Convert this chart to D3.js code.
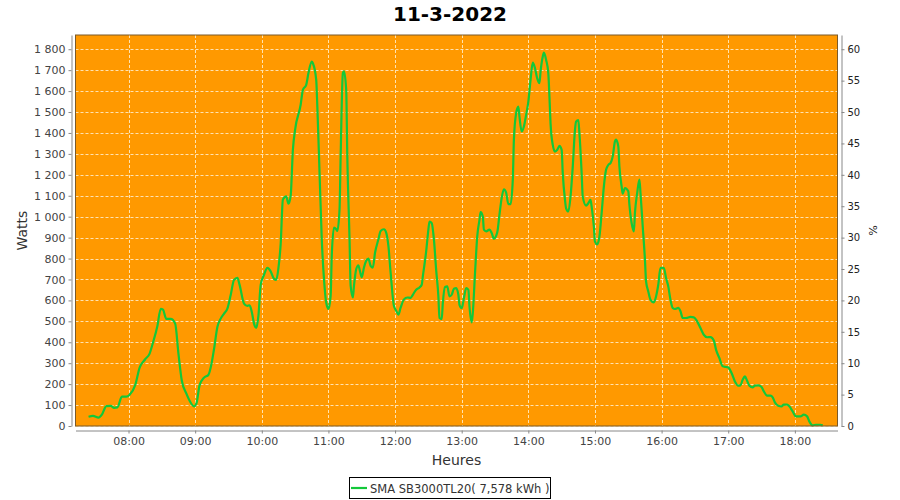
<!DOCTYPE html>
<html>
<head>
<meta charset="utf-8">
<script src="https://cdn.jsdelivr.net/npm/d3@7"></script>
<style>
  html, body { margin: 0; padding: 0; background: #ffffff; }
  svg { display: block; }
</style>
</head>
<body>
<svg id="chart" width="900" height="500"></svg>
<script>
const title = "11-3-2022";
const seriesName = "SMA SB3000TL20( 7,578 kWh )";
const yLabel = "Watts";
const y2Label = "%";
const xLabel = "Heures";
const nominalPower = 3000; // % axis = W / 3000
const yTicks = [0,100,200,300,400,500,600,700,800,900,1000,1100,1200,1300,1400,1500,1600,1700,1800];
const y2Ticks = [0,5,10,15,20,25,30,35,40,45,50,55,60];

const times = [
"07:24","07:28","07:33","07:36","07:40","07:44","07:47","07:50","07:54","07:58",
"08:01","08:06","08:10","08:15","08:19","08:22","08:26","08:29","08:31","08:34",
"08:38","08:42","08:45","08:48","08:52","08:55","08:59","09:01","09:04","09:08",
"09:12","09:14","09:17","09:20","09:23","09:26","09:29","09:32","09:35","09:38",
"09:40","09:44","09:47","09:49","09:51","09:53","09:55","09:57","09:59","10:02",
"10:05","10:08","10:11","10:13","10:15","10:17","10:19","10:22","10:24","10:26",
"10:28","10:30","10:35","10:37","10:40","10:42","10:45","10:46","10:49","10:50",
"10:52","10:54","10:56","10:58","11:00","11:02","11:03","11:05","11:07","11:08",
"11:10","11:11","11:13","11:14","11:16","11:17","11:19","11:20","11:22","11:23",
"11:25","11:27","11:28","11:30","11:32","11:34","11:36","11:38","11:40","11:42",
"11:45","11:47","11:50","11:52","11:54","11:56","11:59","12:01","12:03","12:05",
"12:08","12:11","12:14","12:16","12:19","12:22","12:24","12:25","12:28","12:30",
"12:31","12:33","12:35","12:37","12:39","12:40","12:42","12:43","12:45","12:47",
"12:49","12:51","12:53","12:55","12:57","12:58","13:00","13:02","13:04","13:06",
"13:07","13:09","13:10","13:12","13:14","13:16","13:17","13:19","13:20","13:22",
"13:25","13:27","13:29","13:32","13:34","13:36","13:38","13:40","13:42","13:44",
"13:46","13:47","13:49","13:51","13:52","13:54","13:56","13:58","14:00","14:02",
"14:04","14:06","14:08","14:10","14:11","14:13","14:14","14:16","14:18","14:19",
"14:20","14:22","14:24","14:26","14:28","14:30","14:31","14:33","14:34","14:36",
"14:38","14:40","14:42","14:43","14:45","14:46","14:48","14:49","14:52","14:54",
"14:56","14:57","14:59","15:00","15:02","15:04","15:06","15:08","15:10","15:12",
"15:14","15:16","15:18","15:19","15:21","15:22","15:24","15:25","15:27","15:30",
"15:31","15:33","15:35","15:36","15:38","15:40","15:41","15:43","15:45","15:46",
"15:48","15:50","15:53","15:55","15:57","15:59","16:02","16:04","16:06","16:08",
"16:10","16:12","16:15","16:17","16:19","16:22","16:26","16:29","16:32","16:35",
"16:38","16:41","16:44","16:47","16:49","16:52","16:55","16:58","17:00","17:03",
"17:06","17:09","17:11","17:13","17:15","17:17","17:19","17:22","17:24","17:27",
"17:30","17:32","17:35","17:38","17:40","17:42","17:45","17:48","17:50","17:53",
"17:55","17:58","18:01","18:05","18:08","18:11","18:13","18:16","18:19","18:23",
"18:25"
];
const watts = [
44,48,40,54,95,96,87,89,140,140,
149,195,279,319,346,398,478,560,556,512,
512,489,343,216,156,121,94,105,195,231,
245,279,368,473,513,537,561,626,698,708,
674,585,574,577,545,489,469,529,674,722,
755,739,703,698,755,870,1082,1097,1062,1100,
1320,1416,1535,1606,1630,1686,1741,1733,1654,1527,
1210,892,702,590,559,622,813,948,940,932,
1035,1289,1686,1694,1606,1289,892,670,614,670,
749,768,749,710,757,789,800,765,757,829,
892,932,940,924,860,733,573,551,532,565,
605,614,612,627,651,662,675,715,834,938,
977,969,890,746,619,516,511,587,664,667,
619,627,656,659,627,579,563,611,659,651,
571,495,540,731,906,985,1022,1001,938,930,
938,922,895,925,1010,1090,1130,1115,1060,1060,
1176,1367,1494,1526,1478,1407,1431,1486,1550,1654,
1736,1709,1661,1638,1693,1765,1784,1749,1685,1574,
1446,1343,1311,1319,1338,1319,1208,1080,1040,1025,
1096,1239,1415,1454,1462,1399,1208,1096,1053,1064,
1080,1048,953,881,868,905,1017,1144,1224,1247,
1256,1288,1360,1368,1336,1240,1145,1110,1137,1121,
1057,970,930,1018,1113,1177,1113,954,795,691,
643,603,591,619,675,755,755,707,667,603,
564,559,564,548,516,516,521,519,500,468,
436,424,425,409,365,325,285,282,280,253,
213,193,194,221,237,216,193,185,193,194,
186,166,145,145,137,113,97,94,102,102,
94,70,46,46,54,46,22,3,6,6,
3
];

const parse = d3.timeParse("%Y-%m-%d %H:%M");
const data = times.map((t, i) => ({ t: parse("2022-03-11 " + t), w: watts[i] }));

const svg = d3.select("#chart");
const plot = { left: 75.5, right: 837.5, top: 35, bottom: 426 };

const x = d3.scaleTime()
  .domain([parse("2022-03-11 07:12").getTime() + 15000, parse("2022-03-11 18:38").getTime() + 23000])
  .range([plot.left, plot.right]);
const y = d3.scaleLinear().domain([0, 1868]).range([plot.bottom, plot.top]);
const y2 = d3.scaleLinear().domain([0, 1868 / nominalPower * 100]).range([plot.bottom, plot.top]);

// Title
svg.append("text")
  .attr("x", 450).attr("y", 21)
  .attr("text-anchor", "middle")
  .attr("font-family", "DejaVu Sans, sans-serif")
  .attr("font-weight", "bold")
  .attr("font-size", 20)
  .attr("fill", "#000")
  .text(title);

// Plot background
svg.append("rect")
  .attr("x", plot.left).attr("y", plot.top)
  .attr("width", plot.right - plot.left).attr("height", plot.bottom - plot.top)
  .attr("fill", "#ff9900");

// Grid
const grid = svg.append("g");
grid.selectAll("line.h").data(yTicks).enter().append("line")
  .attr("x1", plot.left).attr("x2", plot.right)
  .attr("y1", d => Math.round(y(d)) + 0.5).attr("y2", d => Math.round(y(d)) + 0.5)
  .attr("stroke", "#ffe2b0").attr("stroke-width", 1).attr("stroke-dasharray", "3,2");
const hourTicks = x.ticks(d3.timeHour.every(1));
grid.selectAll("line.v").data(hourTicks).enter().append("line")
  .attr("y1", plot.top).attr("y2", plot.bottom)
  .attr("x1", d => Math.round(x(d)) + 0.5).attr("x2", d => Math.round(x(d)) + 0.5)
  .attr("stroke", "#ffe2b0").attr("stroke-width", 1).attr("stroke-dasharray", "3,2");

// Line
const line = d3.line().x(d => x(d.t)).y(d => y(d.w)).curve(d3.curveMonotoneX);
svg.append("path").datum(data)
  .attr("d", line)
  .attr("fill", "none")
  .attr("stroke", "#13c83a")
  .attr("stroke-width", 2.2)
  .attr("stroke-linejoin", "round");

// Plot outline
svg.append("rect")
  .attr("x", plot.left).attr("y", plot.top)
  .attr("width", plot.right - plot.left).attr("height", plot.bottom - plot.top)
  .attr("fill", "none").attr("stroke", "#7a5a2a").attr("stroke-width", 1);

// Axes
const fmtW = d => d3.format(",")(d).replace(/,/g, " ");
const axisStyle = g => {
  g.selectAll("path.domain").attr("stroke", "#888").attr("stroke-width", 1);
  g.selectAll(".tick line").attr("stroke", "#888");
  g.selectAll(".tick text").attr("fill", "#444").attr("font-family", "DejaVu Sans, sans-serif").attr("font-size", 11);
};

svg.append("g")
  .attr("transform", `translate(71.5,0)`)
  .call(d3.axisLeft(y).tickValues(yTicks).tickFormat(fmtW).tickSizeInner(3).tickSizeOuter(0).tickPadding(3))
  .call(axisStyle);

svg.append("g")
  .attr("transform", `translate(841.5,0)`)
  .call(d3.axisRight(y2).tickValues(y2Ticks).tickFormat(d3.format("d")).tickSizeInner(3).tickSizeOuter(0).tickPadding(3))
  .call(axisStyle)
  .call(g => g.selectAll(".tick text").attr("fill", "#222").attr("font-size", 10));

svg.append("g")
  .attr("transform", `translate(0,430.5)`)
  .call(d3.axisBottom(x).ticks(d3.timeHour.every(1)).tickFormat(d3.timeFormat("%H:%M")).tickSizeInner(3).tickSizeOuter(0).tickPadding(4))
  .call(axisStyle);

// Axis labels
svg.append("text")
  .attr("x", (plot.left + plot.right) / 2).attr("y", 465)
  .attr("text-anchor", "middle")
  .attr("font-family", "DejaVu Sans, sans-serif").attr("font-size", 14)
  .attr("fill", "#333")
  .text(xLabel);

svg.append("text")
  .attr("transform", `translate(27,${(plot.top + plot.bottom) / 2}) rotate(-90)`)
  .attr("text-anchor", "middle")
  .attr("font-family", "DejaVu Sans, sans-serif").attr("font-size", 14)
  .attr("fill", "#333")
  .text(yLabel);

svg.append("text")
  .attr("transform", `translate(869,${(plot.top + plot.bottom) / 2}) rotate(90)`)
  .attr("text-anchor", "middle")
  .attr("font-family", "DejaVu Sans, sans-serif").attr("font-size", 11)
  .attr("fill", "#222")
  .text(y2Label);

// Legend
const lg = svg.append("g");
lg.append("rect")
  .attr("x", 349.5).attr("y", 477.5).attr("width", 201).attr("height", 21)
  .attr("fill", "#fff").attr("stroke", "#000").attr("stroke-width", 1);
lg.append("line")
  .attr("x1", 351).attr("x2", 367).attr("y1", 488).attr("y2", 488)
  .attr("stroke", "#13c83a").attr("stroke-width", 2.2);
lg.append("text")
  .attr("x", 370).attr("y", 492.5)
  .attr("font-family", "DejaVu Sans, sans-serif").attr("font-size", 11.5)
  .attr("fill", "#333")
  .text(seriesName);
</script>
</body>
</html>
